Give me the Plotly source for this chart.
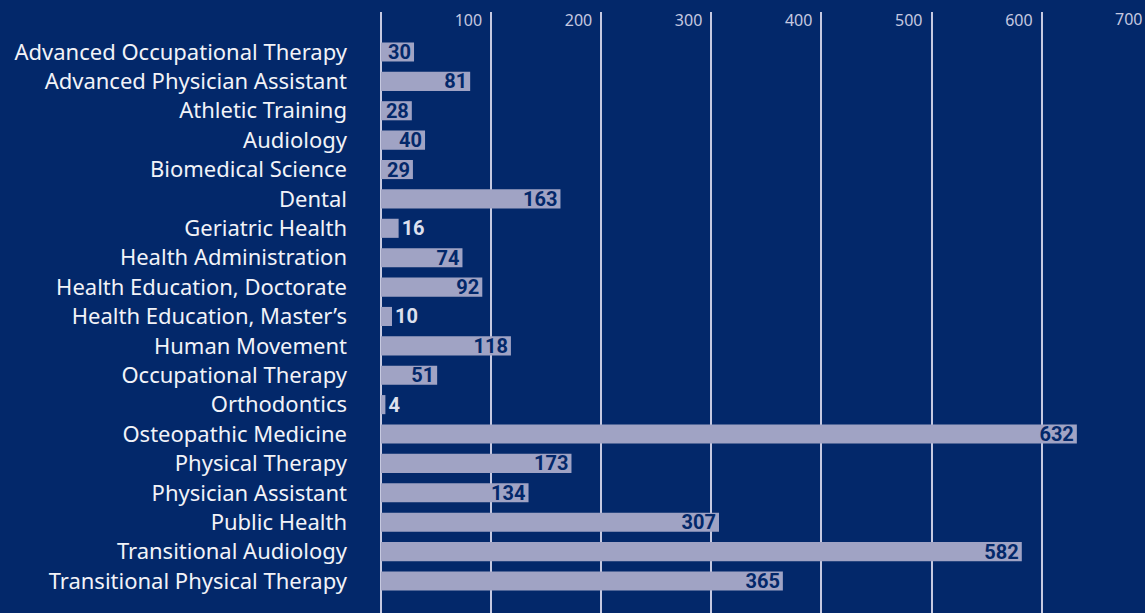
import plotly.graph_objects as go

programs = [
    "Advanced Occupational Therapy", "Advanced Physician Assistant", "Athletic Training",
    "Audiology", "Biomedical Science", "Dental", "Geriatric Health", "Health Administration",
    "Health Education, Doctorate", "Health Education, Master\u2019s", "Human Movement",
    "Occupational Therapy", "Orthodontics", "Osteopathic Medicine", "Physical Therapy",
    "Physician Assistant", "Public Health", "Transitional Audiology",
    "Transitional Physical Therapy",
]
students = [30, 81, 28, 40, 29, 163, 16, 74, 92, 10, 118, 51, 4, 632, 173, 134, 307, 582, 365]
tick_values = [100, 200, 300, 400, 500, 600, 700]
tick_labels = ["100", "200", "300", "400", "500", "600", "700"]

BG = "#03286A"
BAR = "#A0A3C4"
GRID = "#C6C9E0"
LABEL_FONT = "Noto Sans, Lato, sans-serif"
VALUE_FONT = "Roboto, Liberation Sans, sans-serif"

positions = ["outside" if v < 20 else "inside" for v in students]

fig = go.Figure(go.Bar(
    x=students, y=programs, orientation="h",
    marker=dict(color=BAR, line=dict(width=0)),
    width=0.65,
    text=[str(v) for v in students],
    textposition=positions,
    textangle=0,
    constraintext="none",
    insidetextanchor="end",
    insidetextfont=dict(color=BG, size=20, family=VALUE_FONT, weight="bold"),
    outsidetextfont=dict(color="#DDE0EE", size=20, family=VALUE_FONT, weight="bold"),
    cliponaxis=False,
    hoverinfo="skip",
))

fig.update_layout(
    width=1145, height=613,
    paper_bgcolor=BG, plot_bgcolor=BG,
    margin=dict(l=381, r=0, t=12, b=0),
    showlegend=False,
    bargap=0.35,
    font=dict(family=LABEL_FONT, color="#F2F3F8"),
)
fig.update_xaxes(
    side="top", range=[0, 693.9],
    tickvals=tick_values, ticktext=tick_labels,
    ticklabelposition="inside left",
    ticklabelshift=-9, ticklabelstandoff=-3,
    tickfont=dict(size=16, color=GRID, family=LABEL_FONT),
    showgrid=True, gridcolor=GRID, gridwidth=2,
    zeroline=True, zerolinecolor=GRID, zerolinewidth=2,
    showline=False, ticks="",
)
fig.update_yaxes(
    categoryorder="array", categoryarray=programs,
    range=[19.09, -1.36],
    tickfont=dict(size=22, color="#F2F3F8", family=LABEL_FONT),
    ticks="", ticklabelstandoff=33,
    showgrid=False, zeroline=False, showline=False,
)
fig.add_annotation(
    text="700", xref="paper", yref="paper", x=1, y=1, xanchor="right", yanchor="top",
    xshift=-1, yshift=6, showarrow=False, font=dict(size=16, color=GRID, family=LABEL_FONT),
)

fig.write_html(
    "out.html",
    config={"displayModeBar": False},
    post_script="document.body.style.margin='0';document.body.style.overflow='hidden';",
)
